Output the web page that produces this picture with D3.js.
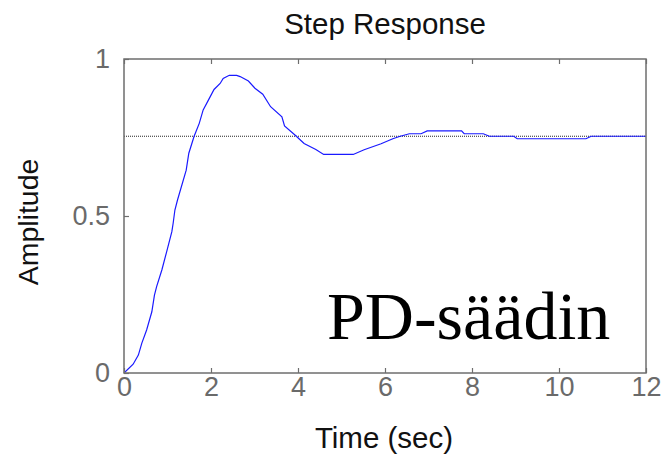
<!DOCTYPE html>
<html><head><meta charset="utf-8">
<script src="https://cdn.jsdelivr.net/npm/d3@7"></script>
<style>body{margin:0;background:#fff}svg{display:block}</style>
</head><body>
<svg id="c" width="663" height="462"></svg>
<script>
const timeSec = [0,0.21,0.33,0.41,0.52,0.64,0.70,0.75,0.87,0.98,1.10,1.13,1.17,1.23,1.43,1.49,1.61,1.73,1.82,1.94,2.07,2.21,2.28,2.42,2.59,2.67,2.86,3.01,3.19,3.37,3.63,3.69,3.93,4.14,4.41,4.59,5.27,5.52,5.91,6.18,6.35,6.56,6.83,6.97,7.76,7.82,8.26,8.40,8.96,9.04,10.62,10.74,12];
const amplitude = [0,0.028,0.057,0.095,0.137,0.195,0.248,0.275,0.328,0.386,0.45,0.477,0.519,0.551,0.646,0.70,0.753,0.795,0.838,0.869,0.903,0.922,0.938,0.948,0.948,0.944,0.93,0.907,0.888,0.848,0.816,0.787,0.758,0.731,0.712,0.696,0.696,0.711,0.730,0.746,0.754,0.762,0.762,0.771,0.771,0.762,0.762,0.754,0.754,0.746,0.746,0.754,0.754];
const steadyState = [0.754];
const xTicks = [0,2,4,6,8,10,12];
const yTicks = [0,0.5,1];
const yTickLabels = ["0","0.5","1"];
const titleText = "Step Response";
const xLabel = "Time (sec)";
const yLabel = "Amplitude";
const annotation = "PD-säädin";

const svg = d3.select("#c");
const L=124, R=646, T=59, B=373;
const x = d3.scaleLinear().domain([0,12]).range([L,R]);
const y = d3.scaleLinear().domain([0,1]).range([B,T]);
const axisColor = "#6e6e6e";
const font = "'Liberation Sans', Arial, sans-serif";

// steady-state line
svg.append("line").attr("x1",x(0)).attr("x2",x(12))
  .attr("y1",y(steadyState[0])).attr("y2",y(steadyState[0]))
  .attr("stroke","#222").attr("stroke-width",1).attr("stroke-dasharray","1,1");

// response curve
const data = timeSec.map((t,i)=>[t,amplitude[i]]);
svg.append("path").datum(data)
  .attr("d", d3.line().x(d=>x(d[0])).y(d=>y(d[1])))
  .attr("fill","none").attr("stroke","#1a1aff").attr("stroke-width",1.2);

// box
svg.append("rect").attr("x",L).attr("y",T).attr("width",R-L).attr("height",B-T)
  .attr("fill","none").attr("stroke",axisColor).attr("stroke-width",1.5);

// axes
const xb = svg.append("g").attr("transform",`translate(0,${B})`)
  .call(d3.axisBottom(x).tickValues(xTicks).tickSize(-5).tickPadding(4).tickFormat(d3.format("d")));
const xt = svg.append("g").attr("transform",`translate(0,${T})`)
  .call(d3.axisTop(x).tickValues(xTicks).tickSize(-5).tickFormat(""));
const yl = svg.append("g").attr("transform",`translate(${L},0)`)
  .call(d3.axisLeft(y).tickValues(yTicks).tickSize(-5).tickPadding(14).tickFormat((d,i)=>yTickLabels[i]));
[xb,xt,yl].forEach(g=>{
  g.select(".domain").remove();
  g.selectAll(".tick line").attr("stroke",axisColor).attr("stroke-width",1.2);
  g.selectAll(".tick text").attr("fill","#6a6a6a").attr("font-size",27).attr("font-family",font);
});
xb.selectAll(".tick text").attr("dy","0.71em");

svg.append("text").attr("x",385).attr("y",34).attr("text-anchor","middle")
  .attr("font-family",font).attr("font-size",29.5).attr("fill","#111").text(titleText);
svg.append("text").attr("x",384).attr("y",448).attr("text-anchor","middle")
  .attr("font-family",font).attr("font-size",29.5).attr("fill","#111").text(xLabel);
svg.append("text").attr("transform","translate(38,222) rotate(-90)").attr("text-anchor","middle")
  .attr("font-family",font).attr("font-size",28.5).attr("fill","#111").text(yLabel);
svg.append("text").attr("x",327).attr("y",339)
  .attr("font-family","'Liberation Serif','Times New Roman',serif").attr("font-size",68).attr("fill","#000").text(annotation);
</script>
</body></html>
